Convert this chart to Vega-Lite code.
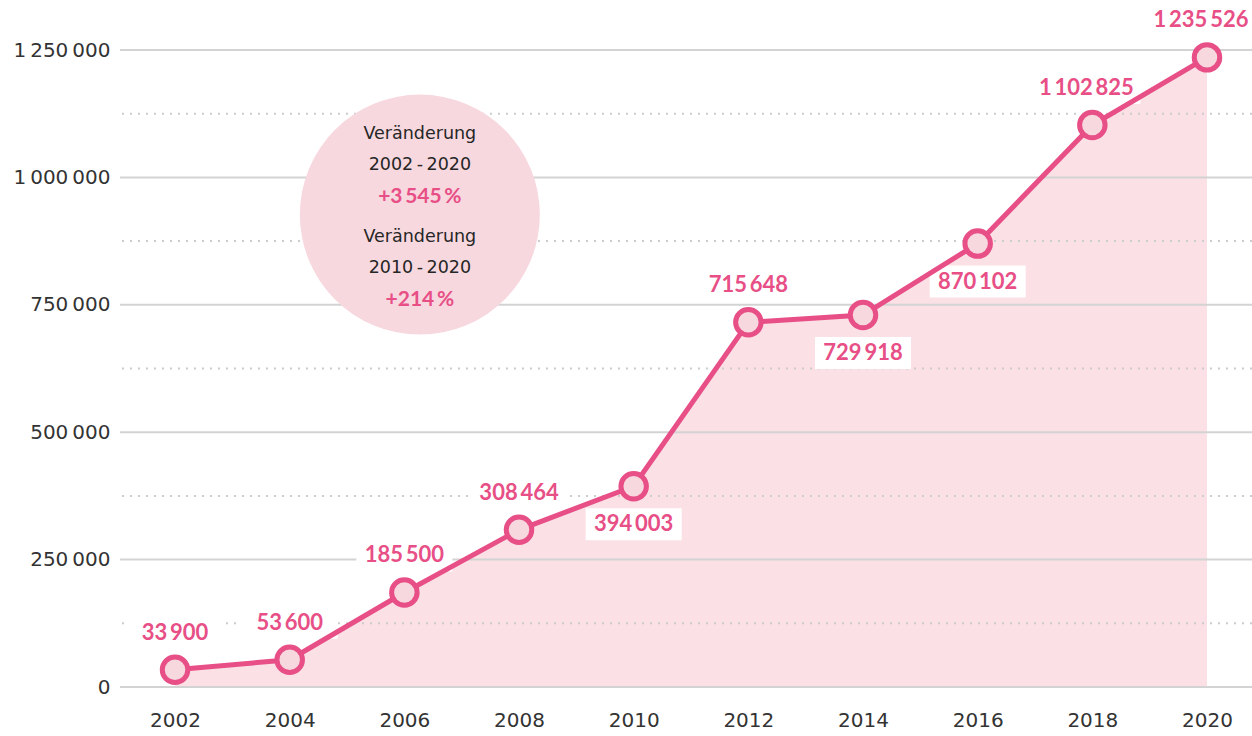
{
  "$schema": "https://vega.github.io/schema/vega-lite/v6.json",
  "width": 1132,
  "height": 637,
  "autosize": {"type": "none"},
  "padding": {"left": 120, "top": 50, "right": 0, "bottom": 49},
  "background": "white",
  "config": {
    "view": {"stroke": null},
    "locale": {"number": {"decimal": ",", "thousands": "\u2009", "grouping": [3], "currency": ["", " €"]}}
  },
  "datasets": {
    "main": [
      {"year": 2002, "value": 33900},
      {"year": 2004, "value": 53600},
      {"year": 2006, "value": 185500},
      {"year": 2008, "value": 308464},
      {"year": 2010, "value": 394003},
      {"year": 2012, "value": 715648},
      {"year": 2014, "value": 729918},
      {"year": 2016, "value": 870102},
      {"year": 2018, "value": 1102825},
      {"year": 2020, "value": 1235526}
    ],
    "grid": [
      {"value": 0}, {"value": 250000}, {"value": 500000}, {"value": 750000}, {"value": 1000000}, {"value": 1250000}
    ],
    "gridMinor": [
      {"value": 125000}, {"value": 375000}, {"value": 625000}, {"value": 875000}, {"value": 1125000}
    ],
    "bubble": [{"year": 2006.27, "value": 927000}],
    "notes": [
      {"year": 2006.27, "value": 1085000, "text": "Veränderung", "kind": "plain"},
      {"year": 2006.27, "value": 1024300, "text": "2002\u2009-\u20092020", "kind": "plain"},
      {"year": 2006.27, "value": 961500, "text": "+3\u2009545\u2009%", "kind": "strong"},
      {"year": 2006.27, "value": 883000, "text": "Veränderung", "kind": "plain"},
      {"year": 2006.27, "value": 822200, "text": "2010\u2009-\u20092020", "kind": "plain"},
      {"year": 2006.27, "value": 759400, "text": "+214\u2009%", "kind": "strong"}
    ]
  },
  "encoding": {
    "x": {
      "field": "year", "type": "quantitative", "title": null,
      "scale": {"domain": [2001.04, 2020.785], "nice": false, "zero": false},
      "axis": {
        "values": [2002, 2004, 2006, 2008, 2010, 2012, 2014, 2016, 2018, 2020],
        "format": "d", "title": null, "grid": false, "ticks": false, "domain": false,
        "labelFont": "DejaVu Sans", "labelFontSize": 20, "labelColor": "#333333",
        "labelPadding": 23
      }
    },
    "y": {
      "field": "value", "type": "quantitative", "title": null,
      "scale": {"domain": [0, 1250000], "nice": false},
      "axis": {
        "values": [0, 250000, 500000, 750000, 1000000, 1250000],
        "format": ",d", "title": null, "grid": false, "ticks": false, "domain": false,
        "labelFont": "DejaVu Sans", "labelFontSize": 20, "labelColor": "#333333",
        "labelPadding": 10
      }
    }
  },
  "layer": [
    {
      "data": {"name": "main"},
      "mark": {"type": "area", "color": "#fbe1e6"}
    },
    {
      "data": {"name": "grid"},
      "mark": {"type": "rule", "color": "#d3d3d3", "strokeWidth": 2},
      "encoding": {"x": null}
    },
    {
      "data": {"name": "gridMinor"},
      "mark": {"type": "rule", "color": "#cccccc", "strokeWidth": 2, "strokeDash": [2, 6]},
      "encoding": {"x": null}
    },
    {
      "data": {"name": "bubble"},
      "mark": {"type": "point", "shape": "circle", "filled": true, "size": 57600, "color": "#f7d8df", "opacity": 1}
    },
    {
      "data": {"name": "notes"},
      "transform": [{"filter": "datum.kind == 'plain'"}],
      "mark": {"type": "text", "font": "DejaVu Sans", "fontSize": 17.5, "color": "#262626", "baseline": "middle", "align": "center"},
      "encoding": {"text": {"field": "text"}}
    },
    {
      "data": {"name": "notes"},
      "transform": [{"filter": "datum.kind == 'strong'"}],
      "mark": {"type": "text", "font": "Lato", "fontWeight": "bold", "fontSize": 21, "color": "#e74f86", "baseline": "middle", "align": "center"},
      "encoding": {"text": {"field": "text"}}
    },
    {
      "data": {"name": "main"},
      "transform": [{"filter": "datum.year != 2010 && datum.year != 2014 && datum.year != 2016"}],
      "mark": {"type": "point", "shape": "M-1,-0.333H1V0.333H-1Z", "filled": true, "size": 9216, "color": "white", "opacity": 1, "yOffset": -37}
    },
    {
      "data": {"name": "main"},
      "transform": [{"filter": "datum.year == 2010 || datum.year == 2014 || datum.year == 2016"}],
      "mark": {"type": "point", "shape": "M-1,-0.333H1V0.333H-1Z", "filled": true, "size": 9216, "color": "white", "opacity": 1, "yOffset": 38}
    },
    {
      "data": {"name": "main"},
      "mark": {"type": "line", "color": "#e74f86", "strokeWidth": 5}
    },
    {
      "data": {"name": "main"},
      "mark": {"type": "point", "shape": "circle", "filled": true, "size": 650, "fill": "#f7d8df", "stroke": "#e74f86", "strokeWidth": 5, "opacity": 1}
    },
    {
      "data": {"name": "main"},
      "transform": [{"filter": "datum.year != 2010 && datum.year != 2014 && datum.year != 2016 && datum.year < 2018"}],
      "mark": {"type": "text", "font": "Lato", "fontWeight": "bold", "fontSize": 22, "color": "#e74f86", "baseline": "middle", "align": "center", "dy": -37},
      "encoding": {"text": {"field": "value", "type": "quantitative", "format": ",d"}}
    },
    {
      "data": {"name": "main"},
      "transform": [{"filter": "datum.year >= 2018"}],
      "mark": {"type": "text", "font": "Lato", "fontWeight": "bold", "fontSize": 22, "color": "#e74f86", "baseline": "middle", "align": "center", "dy": -37, "dx": -6},
      "encoding": {"text": {"field": "value", "type": "quantitative", "format": ",d"}}
    },
    {
      "data": {"name": "main"},
      "transform": [{"filter": "datum.year == 2010 || datum.year == 2014 || datum.year == 2016"}],
      "mark": {"type": "text", "font": "Lato", "fontWeight": "bold", "fontSize": 22, "color": "#e74f86", "baseline": "middle", "align": "center", "dy": 38},
      "encoding": {"text": {"field": "value", "type": "quantitative", "format": ",d"}}
    }
  ]
}
